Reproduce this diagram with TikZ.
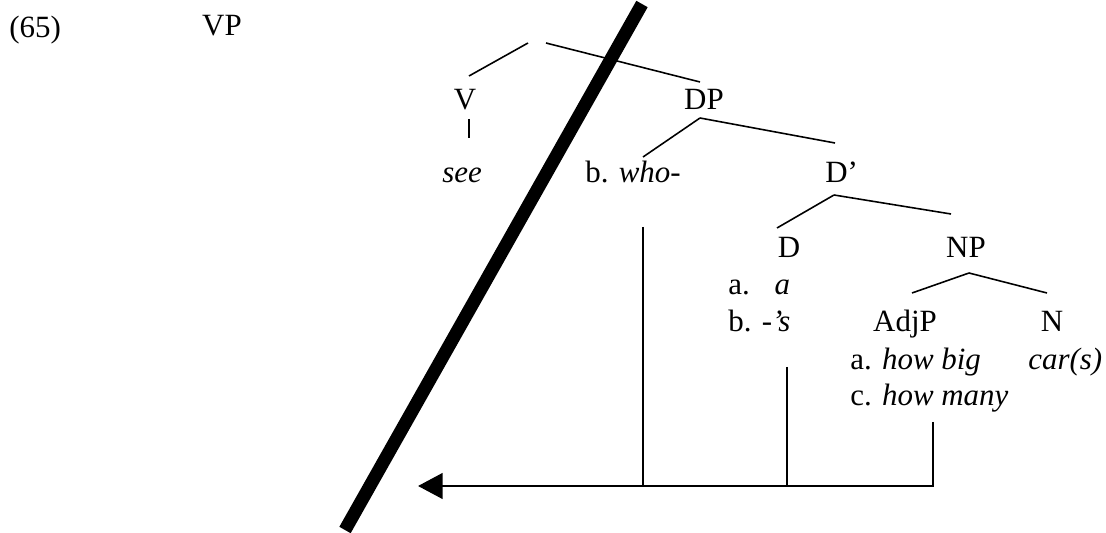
\documentclass[tikz,border=0pt]{standalone}
\usepackage{fontspec}
\setmainfont{Liberation Serif}
\usetikzlibrary{arrows.meta}

\tikzset{
  lab/.style={anchor=base, inner sep=0pt},
  labw/.style={anchor=base west, inner sep=0pt},
  branch/.style={line width=0.9pt},
  move/.style={line width=1.6pt},
  barrier/.style={line width=7.4pt},
}

\begin{document}
\begin{tikzpicture}[x=0.02cm, y=-0.02cm, font=\fontsize{17.6}{21}\selectfont]
    \path[use as bounding box] (0,0) rectangle (1106,533);

    % Labels
    \node[labw] (ex) at (9,38) {(65)};
    \node[lab] (vp) at (222,36) {VP};
    \node[lab] (v) at (465,110) {V};
    \node[lab] (dp) at (704,110) {DP};
    \node[lab] (see) at (462,183) {\textit{see}};
    \node[labw] (who) at (585,183) {b. \textit{who}-};
    \node[labw] (dbar) at (825,183) {D’};
    \node[lab] (d) at (789,258) {D};
    \node[lab] (np) at (966,258) {NP};
    \node[labw] (da) at (728,295) {a.\hspace{0.8em}\textit{a}};
    \node[labw] (db) at (728,332) {b. -\textit{’s}};
    \node[lab] (adjp) at (905,332) {AdjP};
    \node[lab] (n) at (1052,332) {N};
    \node[labw] (howbig) at (850,370) {a. \textit{how big}};
    \node[labw] (cars) at (1028,370) {\textit{car(s)}};
    \node[labw] (howmany) at (850,406) {c. \textit{how many}};

    % Branches
    \coordinate (vpl) at (528,43);  \coordinate (vtop) at (469,76);
    \coordinate (vpr) at (546,43);  \coordinate (dptop) at (700,82);
    \coordinate (vst) at (469,119); \coordinate (vsb) at (469,138);
    \coordinate (dpa) at (700,118); \coordinate (whotop) at (643,157);
    \coordinate (dbartop) at (835,143);
    \coordinate (dbara) at (834,195); \coordinate (dtop) at (777,228);
    \coordinate (nptop) at (951,214);
    \coordinate (npa) at (969,273); \coordinate (adjptop) at (912,293);
    \coordinate (ntop) at (1047,293);
    \foreach \a/\b in {vpl/vtop,vpr/dptop,vst/vsb,dpa/whotop,dpa/dbartop,
                       dbara/dtop,dbara/nptop,npa/adjptop,npa/ntop}
    {
      \draw[branch] (\a) -- (\b);
    }

    % Barrier
    \coordinate (bart) at (642,4);
    \coordinate (barb) at (345,530);
    \draw[barrier] (bart) -- (barb);

    % Movement
    \coordinate (tip) at (418,486);
    \coordinate (whol) at (643,227);
    \coordinate (dl) at (787,367);
    \coordinate (hml) at (933,422);
    \draw[move] (whol) -- (whol |- tip);
    \draw[move] (dl) -- (dl |- tip);
    \draw[move, -{Triangle[length=14pt, width=14.5pt]}] (hml) |- (tip);
  \end{tikzpicture}
\end{document}
